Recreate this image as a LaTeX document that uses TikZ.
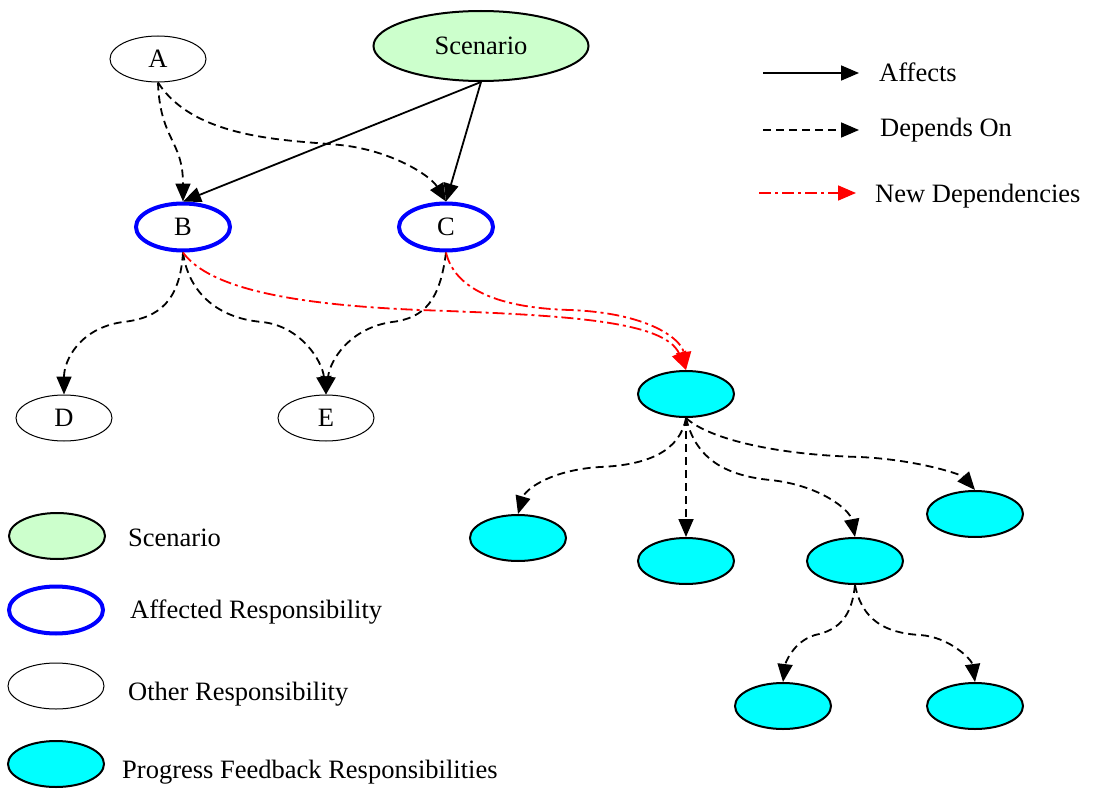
\documentclass[tikz,border=0pt]{standalone}
\usepackage{fontspec}
\setmainfont{Liberation Serif}
\usetikzlibrary{arrows.meta,shapes.geometric}
\definecolor{scgreen}{RGB}{204,255,204}
\definecolor{fbcyan}{RGB}{0,255,255}
\begin{document}
\begin{tikzpicture}[x=1pt,y=-1pt, font=\fontsize{26.5}{30}\selectfont,
  resp/.style={ellipse, draw=black, line width=1pt, minimum width=96pt, minimum height=46pt, inner sep=0pt},
  affected/.style={resp, draw=blue, line width=4pt, minimum width=94pt, minimum height=47pt},
  feedback/.style={resp, fill=fbcyan, line width=2pt, minimum width=96pt, minimum height=46pt},
  scen/.style={resp, fill=scgreen, line width=2pt},
  dep/.style={line width=1.8pt, dash pattern=on 8pt off 5pt, -{Triangle[length=18pt,width=15pt]}},
  aff/.style={line width=1.8pt, -{Triangle[length=18pt,width=15pt]}},
  newdep/.style={red, line width=1.8pt, dash pattern=on 12pt off 4pt on 3pt off 4pt, -{Triangle[length=18pt,width=15pt]}},
  lbl/.style={anchor=base west, inner sep=0pt}]
\useasboundingbox (0,0) rectangle (1095,789);

% main nodes
\node[resp] (A) at (158,59) {A};
\node[scen, minimum width=215pt, minimum height=70pt] (S) at (481,46) {Scenario};
\node[affected] (B) at (183,227) {B};
\node[affected] (C) at (446,227) {C};
\node[resp] (D) at (64,418) {D};
\node[resp] (E) at (326,418) {E};
\node[feedback] (P0) at (686,394) {};
\node[feedback] (P1) at (518,538) {};
\node[feedback] (P2) at (686,561) {};
\node[feedback] (P3) at (855,561) {};
\node[feedback] (P4) at (975,514) {};
\node[feedback] (P5) at (783,706) {};
\node[feedback] (P6) at (975,706) {};

% affects
\draw[aff] (S.south) -- (B.north);
\draw[aff] (S.south) -- (C.north);

% depends on
\draw[dep] (A.south) .. controls (160,140) and (183,140) .. (B.north);
\draw[dep] (A.south) .. controls (195,140) and (290,140) .. (340,145) .. controls (390,150) and (430,175) .. (C.north);
\draw[dep] (B.south) .. controls (180,300) and (160,318) .. (123,322) .. controls (80,328) and (64,360) .. (D.north);
\draw[dep] (B.south) .. controls (188,290) and (215,318) .. (262,322) .. controls (300,326) and (322,360) .. (E.north);
\draw[dep] (C.south) .. controls (440,300) and (425,318) .. (392,322) .. controls (350,328) and (330,360) .. (E.north);
\draw[dep] (P0.south) .. controls (680,450) and (650,465) .. (600,467) .. controls (550,470) and (525,490) .. (P1.north);
\draw[dep] (P0.south) -- (P2.north);
\draw[dep] (P0.south) .. controls (695,455) and (720,475) .. (770,480) .. controls (820,485) and (850,510) .. (P3.north);
\draw[dep] (P0.south) .. controls (710,440) and (780,455) .. (860,457) .. controls (920,460) and (962,475) .. (P4.north);
\draw[dep] (P3.south) .. controls (852,615) and (840,630) .. (815,635) .. controls (792,642) and (785,665) .. (P5.north);
\draw[dep] (P3.south) .. controls (862,620) and (885,633) .. (920,635) .. controls (950,637) and (972,660) .. (P6.north);

% new dependencies
\draw[newdep] (B.south) .. controls (210,290) and (300,305) .. (420,310) .. controls (560,315) and (665,320) .. (P0.north);
\draw[newdep] (C.south) .. controls (455,290) and (500,308) .. (570,310) .. controls (650,313) and (682,340) .. (P0.north);

% top-right legend
\coordinate (la1) at (763,73); \coordinate (lb1) at (859,73);
\coordinate (la2) at (763,130); \coordinate (lb2) at (859,130);
\coordinate (la3) at (759,193); \coordinate (lb3) at (856,193);
\draw[aff] (la1) -- (lb1);
\draw[dep] (la2) -- (lb2);
\draw[newdep] (la3) -- (lb3);
\node[lbl] (t1) at (879,82) {Affects};
\node[lbl] (t2) at (880,137) {Depends On};
\node[lbl] (t3) at (875,202) {New Dependencies};

% bottom-left legend
\node[scen] (LS) at (57,536) {};
\node[affected] (LA) at (56,610) {};
\node[resp] (LO) at (56,686) {};
\node[feedback] (LP) at (56,764) {};
\node[lbl] (tS) at (128,546) {Scenario};
\node[lbl] (tA) at (130,618) {Affected Responsibility};
\node[lbl] (tO) at (128,700) {Other Responsibility};
\node[lbl] (tP) at (122,778) {Progress Feedback Responsibilities};
\end{tikzpicture}
\end{document}
